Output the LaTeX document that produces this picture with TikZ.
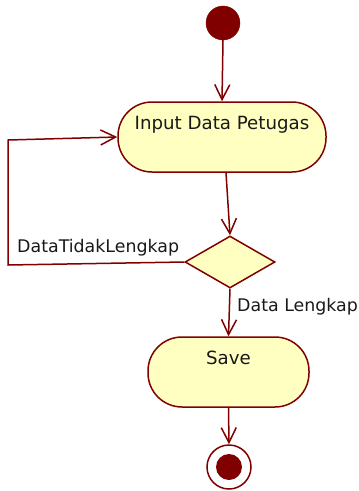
\documentclass[tikz,border=0pt]{standalone}
\usepackage{fontspec}
\setmainfont{DejaVu Sans}
\usetikzlibrary{shapes.geometric,arrows.meta}
\definecolor{umlred}{RGB}{128,0,0}
\definecolor{umlfill}{RGB}{255,255,194}
\begin{document}
\begin{tikzpicture}[x=1pt,y=-1pt,
  font=\fontsize{18.2}{21}\selectfont,
  flow/.style={draw=umlred,line width=1.5pt,-{Straight Barb[length=15pt,width=15pt,line width=1.5pt]}},
  act/.style={draw=umlred,line width=1.5pt,fill=umlfill,rounded corners=34pt,inner sep=0pt,
    text height=13pt,text depth=28pt,text=black!90},
  decis/.style={draw=umlred,line width=1.5pt,fill=umlfill,diamond,inner sep=0pt,
    minimum width=90pt,minimum height=52pt},
  lbl/.style={text=black!90,inner sep=0pt,anchor=west,font=\fontsize{17.4}{20}\selectfont}]
\useasboundingbox (0,0) rectangle (359,491);
\node[circle,fill=umlred,draw=umlred,minimum size=34pt,inner sep=0pt] (start) at (223,23) {};
\node[act,minimum width=208pt,minimum height=70pt] (input) at (222,137) {Input Data Petugas};
\node[decis] (dec) at (230,262) {};
\node[act,minimum width=161pt,minimum height=70pt] (save) at (228.5,372) {Save};
\node[circle,draw=umlred,line width=1.5pt,fill=white,minimum size=44pt,inner sep=0pt] (end) at (229,467) {};
\node[circle,fill=umlred,minimum size=26pt,inner sep=0pt] (endin) at (end.center) {};
\coordinate (c1) at (8,265);
\coordinate (c2) at (8,140);
\draw[flow] (start.south) -- (input.north);
\draw[flow] ([xshift=4pt]input.south) -- (dec.north);
\draw[flow] (dec.south) -- (save.north);
\draw[flow] (save.south) -- (end.north);
\draw[flow] (dec.west) -- (c1) -- (c2) -- (input.west);
\node[lbl] (l1) at (17,248) {DataTidakLengkap};
\node[lbl] (l2) at (237,307) {Data Lengkap};
\end{tikzpicture}
\end{document}
